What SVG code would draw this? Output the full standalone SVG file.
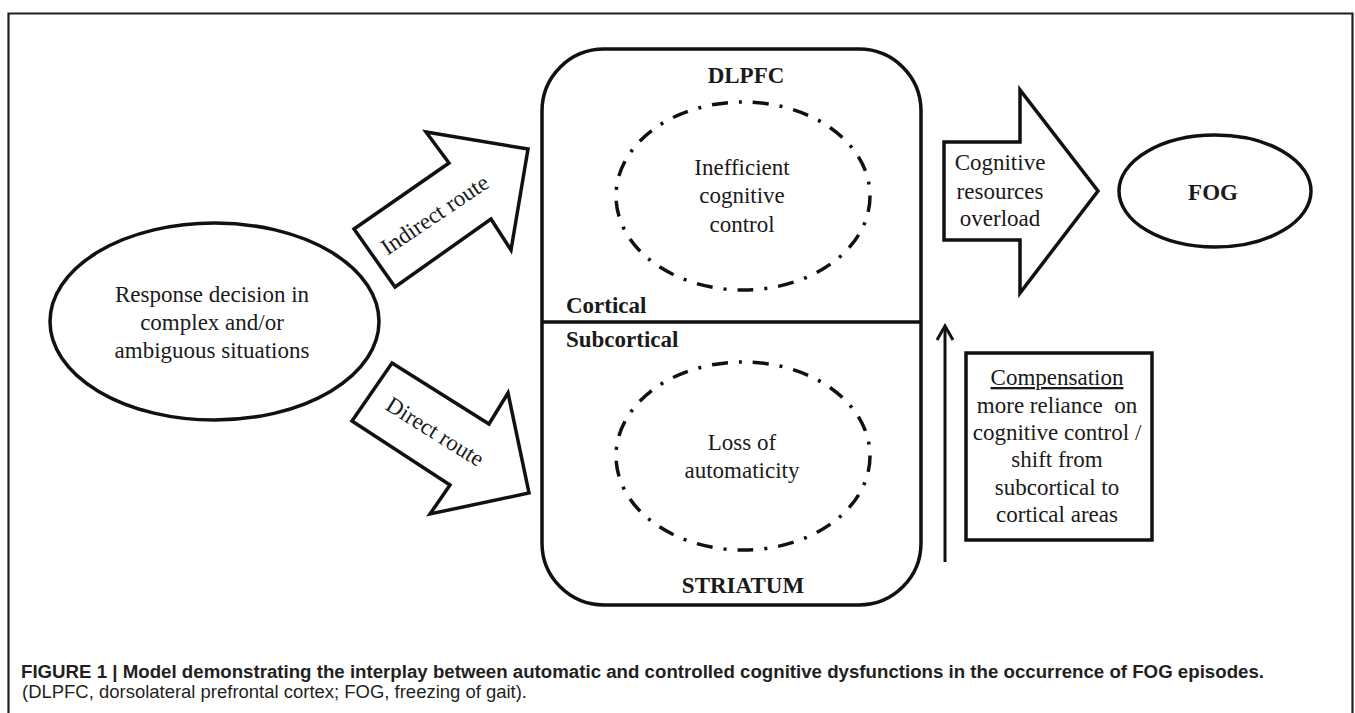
<svg xmlns="http://www.w3.org/2000/svg" width="1355" height="713" viewBox="0 0 1355 713">
<defs>
<style>
.s { fill: #ffffff; stroke: #111111; stroke-width: 3.5; stroke-linejoin: miter; }
.n { fill: none; stroke: #111111; stroke-width: 3.5; }
.dd { fill: none; stroke: #111111; stroke-width: 3.5; stroke-dasharray: 16 11 3 11; }
.t { font-family: "Liberation Serif", "Times New Roman", serif; font-size: 23px; fill: #1a1a1a; text-anchor: middle; }
.b { font-weight: bold; }
.l { text-anchor: start; }
.cap { font-family: "Liberation Sans", Arial, sans-serif; font-size: 18px; fill: #231f20; }
</style>
<marker id="open" viewBox="0 0 20 20" refX="17" refY="10" markerWidth="20" markerHeight="20" markerUnits="userSpaceOnUse" orient="auto">
<polyline points="3,2 17,10 3,18" fill="none" stroke="#111111" stroke-width="3"/>
</marker>
</defs>
<rect x="0" y="0" width="1355" height="713" fill="#ffffff"/>
<path d="M8.5 713 V13.5 H1352.5 V713" fill="none" stroke="#231f20" stroke-width="2.2"/>

<g id="connectors">
<g id="indirect-route">
<polygon class="s" points="354,229 449,163 426,132 528,149 511,250 491,219 395,287"/>
<text class="t" font-size="22" transform="translate(439,221) rotate(-34)">Indirect route</text>
</g>
<g id="direct-route">
<polygon class="s" points="392,363 489,424 508,393 529,493 430,514 450,485 352,421"/>
<text class="t" font-size="22" transform="translate(431,438) rotate(32)">Direct route</text>
</g>
<g id="overload-arrow">
<polygon class="s" points="944,142 1020,142 1020,90 1098,191 1020,293 1020,240 944,240"/>
<text class="t" x="1000" y="170">Cognitive</text>
<text class="t" x="1000" y="199">resources</text>
<text class="t" x="1000" y="226">overload</text>
</g>
<line id="compensation-arrow" x1="945" y1="562" x2="945" y2="326" stroke="#111111" stroke-width="3" marker-end="url(#open)"/>
</g>

<g id="response-decision">
<ellipse class="s" cx="214.5" cy="321.5" rx="164.5" ry="98.5"/>
<text class="t" x="212" y="302">Response decision in</text>
<text class="t" x="212" y="330">complex and/or</text>
<text class="t" x="212" y="358">ambiguous situations</text>
</g>

<g id="brain-box">
<rect class="s" x="542" y="49" width="379" height="556" rx="62" ry="62"/>
<line class="n" x1="542" y1="322" x2="921" y2="322"/>
<text class="t b" x="746" y="83" font-size="26">DLPFC</text>
<text class="t b" x="743" y="593" font-size="27">STRIATUM</text>
<text class="t b l" x="566" y="313" font-size="19">Cortical</text>
<text class="t b l" x="566" y="347" font-size="19">Subcortical</text>
</g>

<g id="inefficient-control">
<ellipse class="dd" cx="743" cy="196" rx="127" ry="94"/>
<text class="t" x="742" y="175">Inefficient</text>
<text class="t" x="742" y="203">cognitive</text>
<text class="t" x="742" y="232">control</text>
</g>

<g id="loss-automaticity">
<ellipse class="dd" cx="743" cy="456" rx="127" ry="94"/>
<text class="t" x="742" y="450">Loss of</text>
<text class="t" x="742" y="478">automaticity</text>
</g>

<g id="fog">
<ellipse class="s" cx="1215" cy="191" rx="96" ry="56"/>
<text class="t b" x="1213" y="200" font-size="27">FOG</text>
</g>

<g id="compensation">
<rect class="s" x="966" y="353" width="186" height="187"/>
<text class="t" x="1057" y="385" text-decoration="underline">Compensation</text>
<text class="t" x="1057" y="413" xml:space="preserve">more reliance  on</text>
<text class="t" x="1057" y="440">cognitive control /</text>
<text class="t" x="1057" y="467">shift from</text>
<text class="t" x="1057" y="495">subcortical to</text>
<text class="t" x="1057" y="522">cortical areas</text>
</g>

<g id="caption">
<text class="cap" x="21" y="678" font-weight="bold" textLength="1243" lengthAdjust="spacingAndGlyphs">FIGURE 1 | Model demonstrating the interplay between automatic and controlled cognitive dysfunctions in the occurrence of FOG episodes.</text>
<text class="cap" x="22" y="698" textLength="505" lengthAdjust="spacingAndGlyphs">(DLPFC, dorsolateral prefrontal cortex; FOG, freezing of gait).</text>
</g>
</svg>
